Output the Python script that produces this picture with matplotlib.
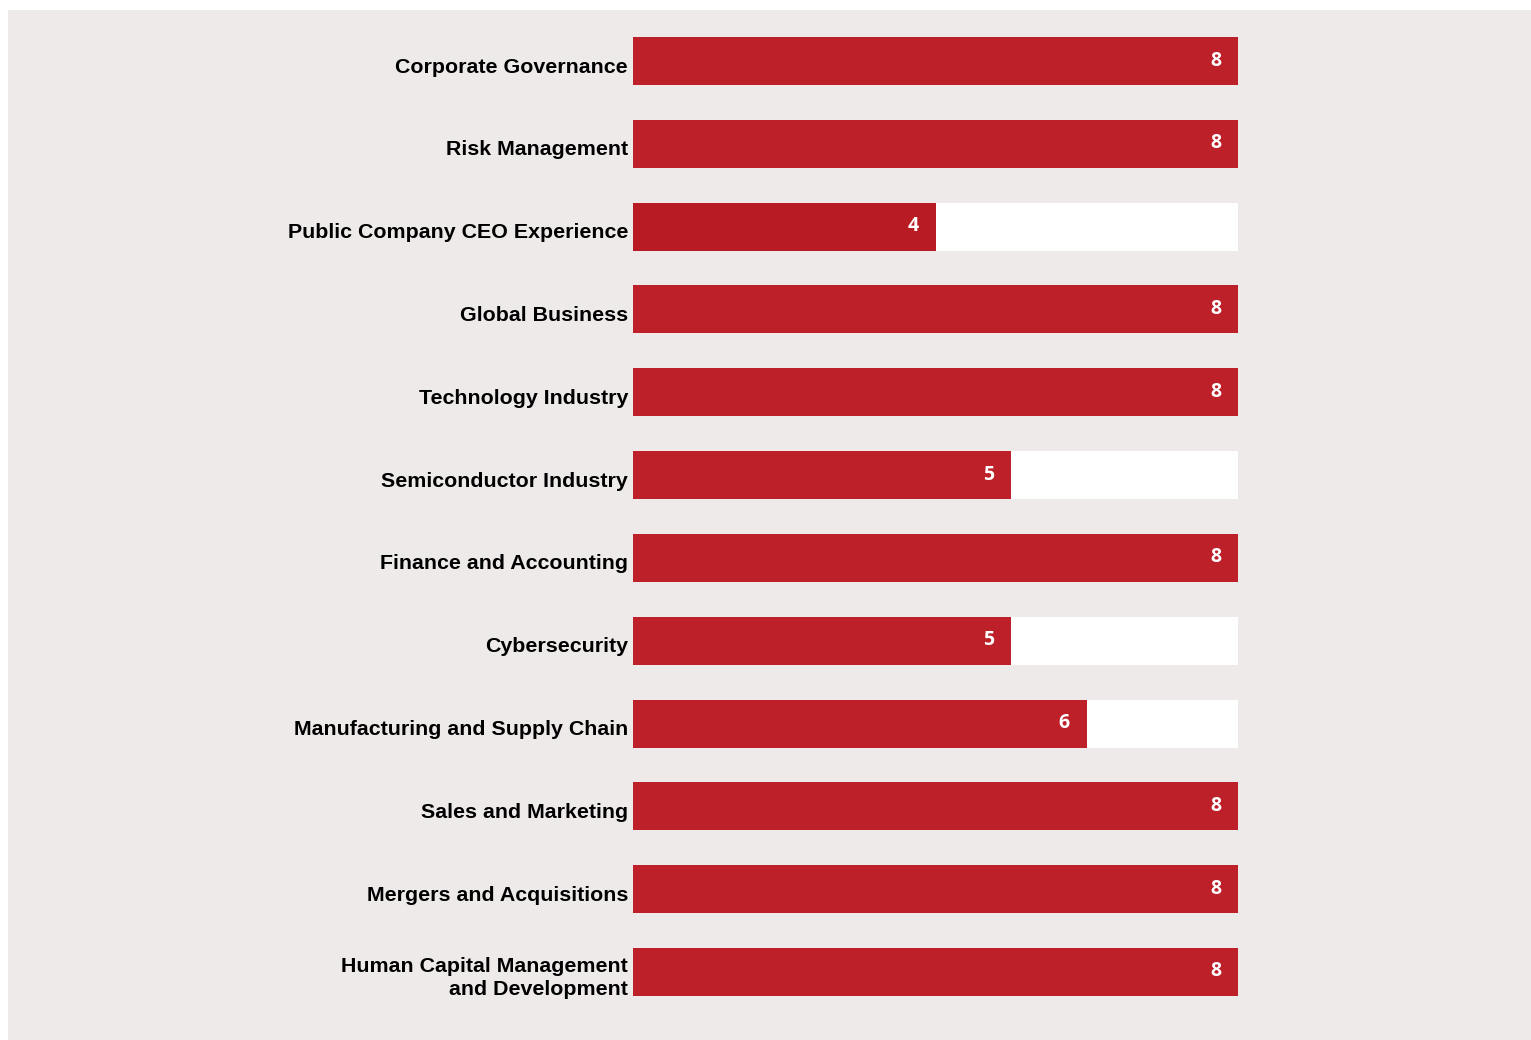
import matplotlib.pyplot as plt
from matplotlib.patches import Rectangle
from matplotlib import transforms

# skills matrix: number of directors with each qualification
skills = [
    "Corporate Governance",
    "Risk Management",
    "Public Company CEO Experience",
    "Global Business",
    "Technology Industry",
    "Semiconductor Industry",
    "Finance and Accounting",
    "Cybersecurity",
    "Manufacturing and Supply Chain",
    "Sales and Marketing",
    "Mergers and Acquisitions",
    "Human Capital Management\nand Development",
]
counts = [8, 8, 4, 8, 8, 5, 8, 5, 6, 8, 8, 8]
board_size = 8

bar_red = "#bd2029"
hover_red = "#b81c22"
panel = "#eeeae9"

fig = plt.figure(figsize=(15.31, 10.40), dpi=100)
fig.patch.set_facecolor("white")
fig.patches.append(Rectangle((8 / 1531, 0), 1 - 8 / 1531, 1 - 10 / 1040,
                             transform=fig.transFigure, facecolor=panel,
                             edgecolor="none", zorder=-1))

ax = fig.add_axes([633 / 1531, 44 / 1040, 605 / 1531, 959 / 1040])
ax.set_facecolor("none")

h = 0.58
ys = range(len(skills))
# white track for the full board, red for the count
ax.barh(ys, [board_size] * len(skills), height=h, color="white", zorder=1)
colors = [hover_red if i == 2 else bar_red for i in ys]
ax.barh(ys, counts, height=h, color=colors, zorder=2)

ax.set_xlim(0, board_size)
ax.set_ylim(len(skills) - 1 + h / 2, -h / 2)
ax.axis("off")

label_shift = transforms.ScaledTranslation(-5 / 100, -6 / 100, fig.dpi_scale_trans)
value_shift = transforms.ScaledTranslation(-17 / 100, 0.5 / 100, fig.dpi_scale_trans)
for i, (name, n) in enumerate(zip(skills, counts)):
    ax.text(0, i, name, ha="right", va="center", fontsize=15.4,
            fontweight="bold", family="Liberation Sans", color="black",
            linespacing=1.3, transform=ax.transData + label_shift)
    ax.text(n, i, str(n), ha="right", va="center", fontsize=14,
            fontweight="bold", family="Open Sans", color="white",
            transform=ax.transData + value_shift, zorder=3)

fig.savefig("out.png", dpi=100, facecolor=fig.get_facecolor())
